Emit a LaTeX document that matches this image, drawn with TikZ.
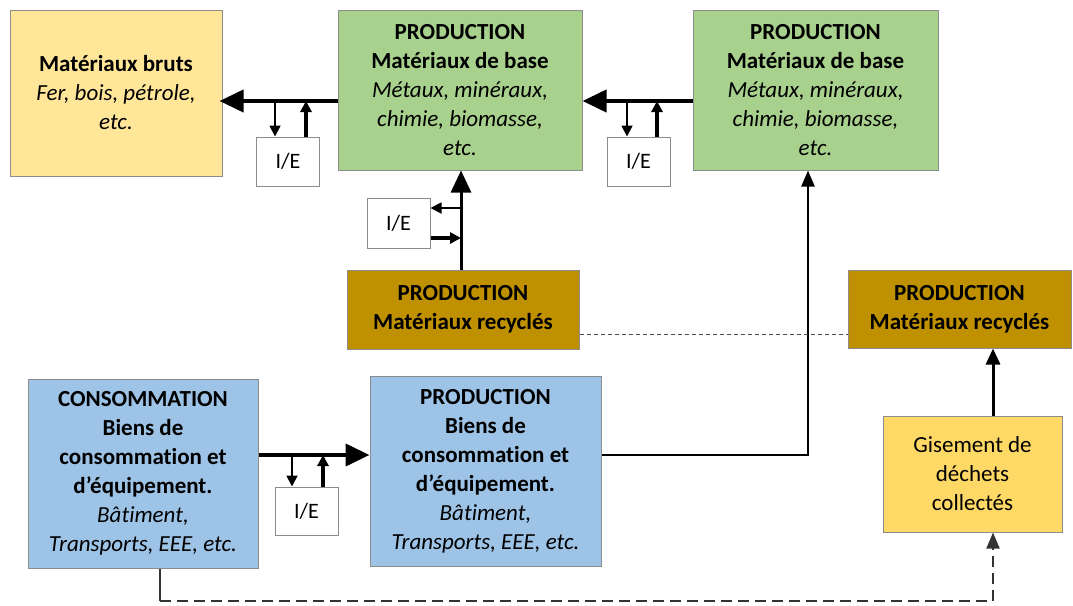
\documentclass[tikz,border=0pt]{standalone}
\usepackage{fontspec}
\setmainfont{Carlito}[RawFeature=-liga]
\usetikzlibrary{arrows.meta,calc}
\definecolor{rawfill}{HTML}{FFE699}
\definecolor{basefill}{HTML}{A9D18E}
\definecolor{recfill}{HTML}{BF9000}
\definecolor{goodsfill}{HTML}{9DC3E6}
\definecolor{wastefill}{HTML}{FFD966}
\definecolor{edgegray}{HTML}{8C8C8C}
\begin{document}
\begin{tikzpicture}[x=1pt,y=-1pt,
  box/.style={draw=edgegray,line width=1pt,align=center,inner sep=2pt,
    font=\fontsize{23}{29}\selectfont},
  iebox/.style={draw=edgegray,line width=1pt,fill=white,minimum width=63pt,
    minimum height=49pt,font=\fontsize{22}{26}\selectfont},
  mainarrow/.style={line width=4pt,-{Triangle[length=24pt,width=22pt]}},
  thinarrow/.style={line width=1.8pt,-{Triangle[length=11pt,width=11pt]}},
  thickarrow/.style={line width=3.6pt,-{Triangle[length=11pt,width=11pt]}},
  feedarrow/.style={line width=2.4pt,-{Triangle[length=16pt,width=13pt]}}]
\useasboundingbox (0,0) rectangle (1073,605);

% material boxes
\node[box,fill=rawfill,minimum width=212pt,minimum height=166pt] (bruts) at (116,93)
  {\textbf{Matériaux bruts}\\\textit{Fer, bois, pétrole,}\\\textit{etc.}};
\node[box,fill=basefill,minimum width=244pt,minimum height=160pt] (g1) at (460,90)
  {\textbf{PRODUCTION}\\\textbf{Matériaux de base}\\\textit{Métaux, minéraux,}\\\textit{chimie, biomasse,}\\\textit{etc.}};
\node[box,fill=basefill,minimum width=245pt,minimum height=160pt] (g2) at (815.5,90)
  {\textbf{PRODUCTION}\\\textbf{Matériaux de base}\\\textit{Métaux, minéraux,}\\\textit{chimie, biomasse,}\\\textit{etc.}};
\node[box,fill=recfill,minimum width=232pt,minimum height=79pt] (r1) at (463,309.5)
  {\textbf{PRODUCTION}\\\textbf{Matériaux recyclés}};
\node[box,fill=recfill,minimum width=223pt,minimum height=78pt] (r2) at (959.5,309)
  {\textbf{PRODUCTION}\\\textbf{Matériaux recyclés}};

% goods boxes
\node[box,fill=goodsfill,minimum width=230pt,minimum height=189pt] (cons) at (143,473.5)
  {\textbf{CONSOMMATION}\\\textbf{Biens de}\\\textbf{consommation et}\\\textbf{d’équipement.}\\\textit{Bâtiment,}\\\textit{Transports, EEE, etc.}};
\node[box,fill=goodsfill,minimum width=231pt,minimum height=190pt] (pb) at (485.5,471)
  {\textbf{PRODUCTION}\\\textbf{Biens de}\\\textbf{consommation et}\\\textbf{d’équipement.}\\\textit{Bâtiment,}\\\textit{Transports, EEE, etc.}};
\node[box,fill=wastefill,minimum width=179pt,minimum height=116pt] (gis) at (972.5,474)
  {Gisement de\\déchets\\collectés};

% import / export boxes
\node[iebox] (ie1) at (288,161.5) {I/E};
\node[iebox] (ie2) at (638.5,161.5) {I/E};
\node[iebox,minimum height=50pt] (ie3) at (398.5,223) {I/E};
\node[iebox,minimum height=48pt] (ie4) at (306.5,511) {I/E};

% main flows
\coordinate (f1) at ([yshift=-11pt]g1.west);
\draw[mainarrow] (f1) -- ([xshift=-3pt]f1 -| bruts.east);
\coordinate (f2) at ([yshift=-11pt]g2.west);
\draw[mainarrow] (f2) -- (f2 -| g1.east);
\coordinate (f3) at ([yshift=18.5pt]cons.east);
\draw[mainarrow] (f3) -- (f3 -| pb.west);
\coordinate (f4) at ([xshift=-2pt]r1.north);
\draw[line width=3pt,-{Triangle[length=22pt,width=20pt]}] (f4) -- (f4 |- g1.south);

% import / export branches
\coordinate (d1) at ([xshift=-13pt]ie1.north);
\coordinate (u1) at ([xshift=18pt]ie1.north);
\draw[thinarrow] (d1 |- f1) -- (d1);
\draw[thickarrow] (u1) -- (u1 |- f1);
\coordinate (d2) at ([xshift=-11.5pt]ie2.north);
\coordinate (u2) at ([xshift=18.5pt]ie2.north);
\draw[thinarrow] (d2 |- f2) -- (d2);
\draw[thickarrow] (u2) -- (u2 |- f2);
\coordinate (d4) at ([xshift=-14.5pt]ie4.north);
\coordinate (u4) at ([xshift=16.5pt]ie4.north);
\draw[thinarrow] (d4 |- f3) -- (d4);
\draw[thickarrow] (u4) -- (u4 |- f3);
\coordinate (d3) at ([yshift=15pt]ie3.east);
\coordinate (u3) at ([yshift=-15pt]ie3.east);
\draw[thinarrow] (d3 -| f4) -- (d3);
\draw[thickarrow] (u3) -- (u3 -| f4);

% goods production feeding base materials
\coordinate (f5) at ([yshift=16pt]pb.east);
\coordinate (t5) at ([xshift=-7.5pt]g2.south);
\draw[feedarrow] (f5) -| (t5);

% waste collection and recycling
\coordinate (w1) at ([xshift=20.5pt]gis.north);
\draw[line width=3pt,-{Triangle[length=16pt,width=14pt]}] (w1) -- (w1 |- r2.south);
\coordinate (c1) at ([xshift=17pt]cons.south);
\coordinate (c2) at ([xshift=20.5pt]gis.south);
\coordinate (c3) at ([yshift=-32pt]c1);
\draw[line width=2pt,draw=black!80] (c1) -- (c3);
\draw[line width=2pt,draw=black!80,dash pattern=on 11pt off 6pt,
  -{Triangle[length=16pt,width=13pt]}] (c3) -| (c2);
\coordinate (p1) at ([yshift=-24.5pt]r1.east);
\draw[line width=1pt,draw=black!70,dash pattern=on 4pt off 3pt] (p1) -- (p1 -| r2.west);
\end{tikzpicture}
\end{document}
